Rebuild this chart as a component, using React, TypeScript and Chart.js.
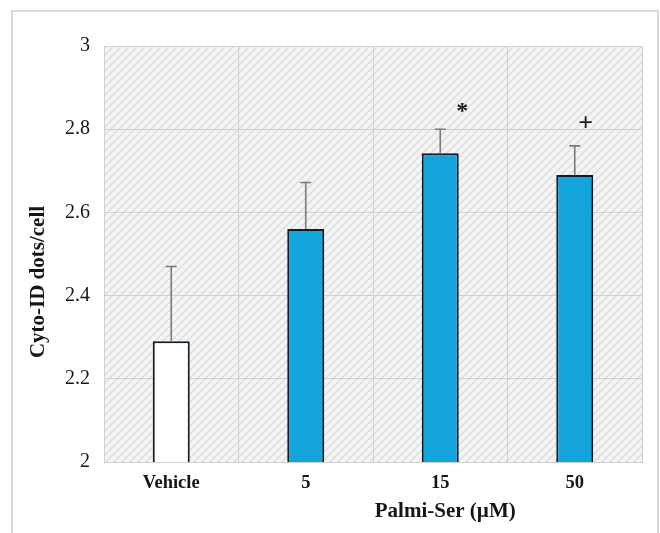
import React, { useEffect, useRef } from "react";
import { Chart, registerables } from "chart.js";
Chart.register(...registerables);

const categories = ["Vehicle", "5", "15", "50"];
const means = [2.29, 2.56, 2.742, 2.69];
const errorsUp = [0.18, 0.112, 0.058, 0.07];
const significance = ["", "", "*", "+"];
const barColors = ["#ffffff", "#13a4dc", "#13a4dc", "#13a4dc"];
const yMin = 2;
const yMax = 3;
const yStep = 0.2;
const yTitle = "Cyto-ID dots/cell";
const xTitle = "Palmi-Ser (\u00b5M)";

const SERIF = '"Liberation Serif", "Times New Roman", serif';

export default function App() {
  const ref = useRef<HTMLCanvasElement | null>(null);
  useEffect(() => {
    const canvas = ref.current!;
    // woven texture pattern for plot background
    const tile = document.createElement("canvas");
    tile.width = 8;
    tile.height = 8;
    const tc = tile.getContext("2d")!;
    tc.fillStyle = "#f2f2f2";
    tc.fillRect(0, 0, 8, 8);
    tc.strokeStyle = "#d9d9d9";
    tc.lineWidth = 1.1;
    tc.beginPath();
    tc.moveTo(0, 8);
    tc.lineTo(8, 0);
    tc.moveTo(-4, 4);
    tc.lineTo(4, -4);
    tc.moveTo(4, 12);
    tc.lineTo(12, 4);
    tc.stroke();
    tc.fillStyle = "#ffffff";
    tc.fillRect(1, 1, 2, 1);
    tc.fillRect(5, 5, 2, 1);
    const pattern = canvas.getContext("2d")!.createPattern(tile, "repeat");

    const decor = {
      id: "decor",
      beforeDraw(chart: any) {
        const ctx = chart.ctx;
        const a = chart.chartArea;
        ctx.save();
        ctx.fillStyle = "#ffffff";
        ctx.fillRect(0, 0, chart.width, chart.height);
        ctx.strokeStyle = "#d9d9d9";
        ctx.lineWidth = 2;
        ctx.strokeRect(12, 11, chart.width - 14, chart.height + 20);
        if (pattern) {
          ctx.fillStyle = pattern;
          ctx.fillRect(a.left, a.top, a.right - a.left, a.bottom - a.top);
        }
        ctx.restore();
      },
      afterDatasetsDraw(chart: any) {
        const ctx = chart.ctx;
        const meta = chart.getDatasetMeta(0);
        const y = chart.scales.y;
        const a = chart.chartArea;
        ctx.save();
        const markOffsets = [0, 0, 22, 11];
        meta.data.forEach((bar: any, i: number) => {
          const top = y.getPixelForValue(means[i] + errorsUp[i]);
          const base = y.getPixelForValue(means[i]);
          ctx.strokeStyle = "#7a7a7a";
          ctx.lineWidth = 1.6;
          ctx.beginPath();
          ctx.moveTo(bar.x, base);
          ctx.lineTo(bar.x, top);
          ctx.moveTo(bar.x - 5.5, top);
          ctx.lineTo(bar.x + 5.5, top);
          ctx.stroke();
          const s = significance[i];
          if (s) {
            ctx.fillStyle = "#1a1a1a";
            ctx.textAlign = "center";
            ctx.textBaseline = "middle";
            ctx.font = s === "*" ? `bold 24px ${SERIF}` : `bold 26px ${SERIF}`;
            ctx.fillText(s, bar.x + markOffsets[i], top - (s === "*" ? 17 : 22));
          }
        });
        // axis titles
        ctx.fillStyle = "#151515";
        ctx.textAlign = "center";
        ctx.textBaseline = "middle";
        ctx.font = `bold 21px ${SERIF}`;
        const xs = chart.scales.x;
        ctx.fillText(xTitle, xs.getPixelForValue(2) + 5, 512);
        ctx.font = `bold 21px ${SERIF}`;
        ctx.translate(39, (a.top + a.bottom) / 2 + 28);
        ctx.rotate(-Math.PI / 2);
        ctx.fillText(yTitle, 0, 0);
        ctx.restore();
      },
    };

    const chart = new Chart(canvas, {
      type: "bar",
      data: {
        labels: categories,
        datasets: [
          {
            data: means,
            backgroundColor: barColors,
            borderColor: "#0e1a26",
            borderWidth: 2,
            borderSkipped: "bottom",
            barPercentage: 0.275,
            categoryPercentage: 1,
          },
        ],
      },
      options: {
        responsive: false,
        animation: false,
        devicePixelRatio: 1,
        layout: { padding: { left: 0, top: 46, right: 18, bottom: 0 } },
        plugins: { legend: { display: false }, tooltip: { enabled: false }, title: { display: false } },
        scales: {
          x: {
            grid: { color: "#cfcfcf", lineWidth: 1, drawTicks: false, offset: true },
            border: { color: "#cfcfcf" },
            ticks: { color: "#151515", font: { family: SERIF, size: 18.5, weight: "bold" }, padding: 10 },
            afterFit: (s: any) => {
              s.height = 71;
            },
          },
          y: {
            min: yMin,
            max: yMax,
            grid: { color: "#cfcfcf", lineWidth: 1, drawTicks: false },
            border: { color: "#cfcfcf" },
            ticks: {
              stepSize: yStep,
              color: "#151515",
              font: { family: SERIF, size: 20 },
              padding: 14,
              callback: (v: any) => String(Number(Number(v).toFixed(1))),
            },
            afterFit: (s: any) => {
              s.width = 104;
            },
          },
        },
      },
      plugins: [decor],
    });
    return () => chart.destroy();
  }, []);
  return (
    <div style={{ position: "fixed", left: 0, top: 0, width: 660, height: 533, background: "#fff" }}>
      <canvas ref={ref} width={660} height={533} style={{ width: 660, height: 533, display: "block" }} />
    </div>
  );
}
